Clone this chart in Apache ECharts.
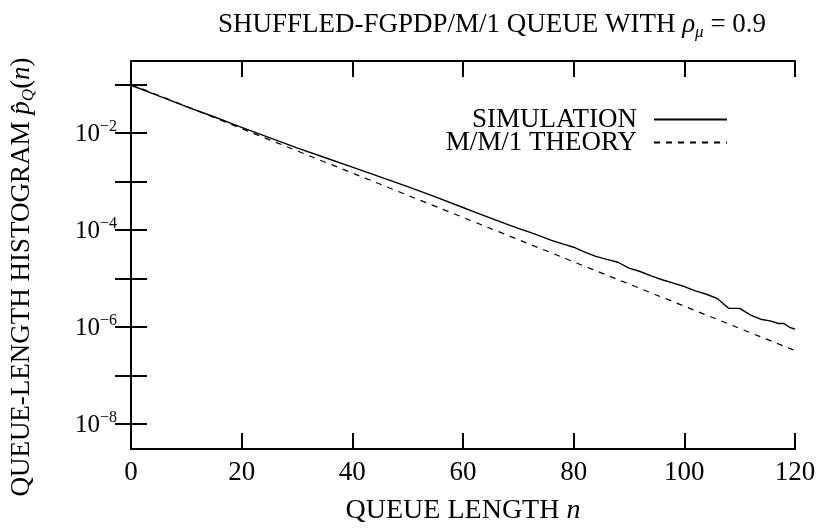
<!DOCTYPE html>
<html>
<head>
<meta charset="utf-8">
<script src="https://cdn.jsdelivr.net/npm/echarts@6/dist/echarts.min.js"></script>
<style>
html,body{margin:0;padding:0;background:#fff;}
#chart{width:819px;height:529px;}
</style>
</head>
<body>
<div id="chart"></div>
<script>
// Queue length n for the simulation curve
const simN = [0,5,10,15,20,25,30,35,40,45,50,55,60,62,65,68,70,72,74,76,78,80,82,84,86,88,90,92,94,96,98,100,102,104,106,108,110,112,114,115.5,117,118,119,120];
// Simulated queue-length histogram p_Q(n)
const simP = [0.0955,0.0575,0.0347,0.0214,0.0129,0.00794,0.0049,0.00309,0.00195,0.00123,7.76e-4,4.79e-4,2.88e-4,2.34e-4,1.74e-4,1.29e-4,1.07e-4,8.91e-5,7.41e-5,6.03e-5,5.13e-5,4.37e-5,3.47e-5,2.82e-5,2.45e-5,2.14e-5,1.62e-5,1.38e-5,1.12e-5,9.33e-6,7.94e-6,6.76e-6,5.50e-6,4.68e-6,3.80e-6,2.40e-6,2.40e-6,1.74e-6,1.41e-6,1.32e-6,1.17e-6,1.17e-6,9.77e-7,8.91e-7];
// M/M/1 theory curve
const thN = [0,10,20,30,40,50,60,70,80,90,100,110,120];
const thP = [0.1,0.0349,0.0122,0.00424,0.00148,5.15e-4,1.80e-4,6.27e-5,2.18e-5,7.62e-6,2.66e-6,9.25e-7,3.23e-7];
// Axis ticks
const xTicks = [0,20,40,60,80,100,120];
const yTickExp = [-8,-7,-6,-5,-4,-3,-2,-1];
const yLabelExp = [-8,-6,-4,-2];
const yMinExp = -8.52, yMaxExp = -0.52;

const FONT = 'Liberation Serif';
const FS = 27;

const simData = simN.map((n,i)=>[n, Math.log10(simP[i])]);
const thData = thN.map((n,i)=>[n, Math.log10(thP[i])]);

const chart = echarts.init(document.getElementById('chart'), null, {renderer:'canvas'});

const axisLineStyle = {color:'#000', width:2};
const yLabelRich = {
  b:{fontFamily:FONT, fontSize:25, color:'#000', lineHeight:28, verticalAlign:'bottom'},
  s:{fontFamily:FONT, fontSize:16, color:'#000', lineHeight:16, verticalAlign:'top'}
};

chart.setOption({
  animation:false,
  backgroundColor:'#fff',
  title:{
    text:'{t|SHUFFLED-FGPDP/M/1 QUEUE WITH }{i|ρ}{sub|μ}{t| = 0.9}',
    left:487, top:4, textAlign:'center',
    textStyle:{
      fontWeight:'normal',
      rich:{
        t:{fontFamily:FONT, fontSize:FS, fontWeight:'normal', color:'#000', lineHeight:32},
        i:{fontFamily:FONT, fontSize:FS, fontStyle:'italic', fontWeight:'normal', color:'#000', lineHeight:32},
        sub:{fontFamily:FONT, fontSize:17, fontStyle:'italic', fontWeight:'normal', color:'#000', lineHeight:17, verticalAlign:'bottom'}
      }
    }
  },
  legend:{
    orient:'vertical', right:86, top:101, align:'right',
    itemWidth:73, itemHeight:20, itemGap:-4,
    selectedMode:false,
    itemStyle:{opacity:0},
    textStyle:{fontFamily:FONT, fontSize:FS, color:'#000', padding:[0,12,0,0]},
    data:['SIMULATION','M/M/1 THEORY']
  },
  grid:{left:131, right:24, top:61, bottom:80, containLabel:false, outerBoundsMode:'none'},
  xAxis:[{
    type:'value', min:0, max:120, interval:20,
    name:'{t|QUEUE LENGTH }{i|n}', nameLocation:'middle', nameGap:48,
    nameTextStyle:{rich:{
      t:{fontFamily:FONT, fontSize:28, color:'#000'},
      i:{fontFamily:FONT, fontSize:28, fontStyle:'italic', color:'#000'}
    }},
    axisLine:{show:true, lineStyle:axisLineStyle},
    axisTick:{show:true, inside:true, length:16, lineStyle:{color:'#000', width:2}},
    axisLabel:{fontFamily:FONT, fontSize:FS, color:'#000', margin:10},
    splitLine:{show:false}
  },{
    type:'value', min:0, max:120, interval:20, position:'top',
    axisLine:{show:true, lineStyle:axisLineStyle},
    axisTick:{show:true, inside:true, length:16, lineStyle:{color:'#000', width:2}},
    axisLabel:{show:false},
    splitLine:{show:false}
  }],
  yAxis:[{
    type:'value', min:yMinExp, max:yMaxExp,
    name:'{t|QUEUE-LENGTH HISTOGRAM }{i|p̂}{sub|Q}{t|(}{i|n}{t|)}',
    nameLocation:'middle', nameGap:94, nameRotate:90,
    nameTextStyle:{padding:[0,44,0,0], rich:{
      t:{fontFamily:FONT, fontSize:FS, color:'#000', lineHeight:30},
      i:{fontFamily:FONT, fontSize:FS, fontStyle:'italic', color:'#000', lineHeight:30},
      sub:{fontFamily:FONT, fontSize:17, fontStyle:'italic', color:'#000', lineHeight:17, verticalAlign:'bottom'}
    }},
    axisLine:{show:true, lineStyle:axisLineStyle},
    axisTick:{show:true, inside:true, length:16, lineStyle:{color:'#000', width:2}, customValues:yTickExp},
    axisLabel:{
      customValues:yLabelExp, margin:14,
      formatter:function(v){ return '{b|10}{s|−' + Math.abs(Math.round(v)) + '}'; },
      rich:yLabelRich
    },
    splitLine:{show:false}
  },{
    type:'value', min:yMinExp, max:yMaxExp, position:'right',
    axisLine:{show:true, lineStyle:axisLineStyle},
    axisTick:{show:true, inside:true, length:16, lineStyle:{color:'#000', width:2}, customValues:yTickExp},
    axisLabel:{show:false},
    splitLine:{show:false}
  }],
  series:[{
    name:'SIMULATION', type:'line', data:simData, xAxisIndex:0, yAxisIndex:0,
    symbol:'none', smooth:false,
    lineStyle:{color:'#000', width:1.4, type:'solid'},
    itemStyle:{color:'#000'}
  },{
    name:'M/M/1 THEORY', type:'line', data:thData, xAxisIndex:0, yAxisIndex:0,
    symbol:'none', smooth:false,
    lineStyle:{color:'#000', width:1.2, type:[6,6]},
    itemStyle:{color:'#000'}
  }]
});
</script>
</body>
</html>
